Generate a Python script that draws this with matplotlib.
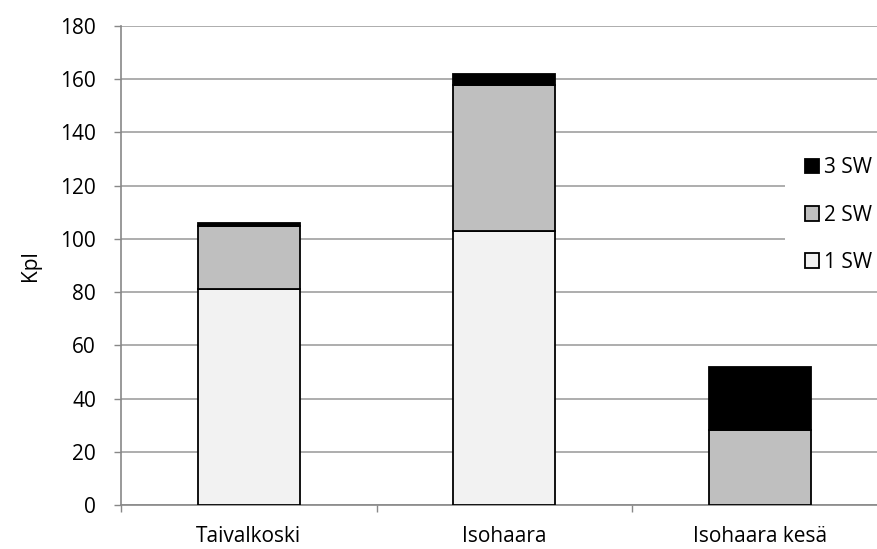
import matplotlib.pyplot as plt
from matplotlib.patches import Rectangle
import numpy as np

categories = ['Taivalkoski', 'Isohaara', 'Isohaara kesä']
sw1 = [81, 103, 0]
sw2 = [24, 55, 28]
sw3 = [1, 4, 24]
series_labels = ['1 SW', '2 SW', '3 SW']
colors = ['#F2F2F2', '#BFBFBF', '#000000']

plt.rcParams['font.family'] = ['Open Sans', 'DejaVu Sans']

fig = plt.figure(figsize=(8.77, 5.49), dpi=100)
W, H = 877, 549
ax = fig.add_axes([121 / W, 1 - 505 / H, (887.5 - 121) / W, (505 - 26) / H])

x = np.arange(len(categories))
bottom = np.zeros(len(categories))
handles = []
for vals, lab, col in zip([sw1, sw2, sw3], series_labels, colors):
    b = ax.bar(x, vals, width=0.4, bottom=bottom, color=col, edgecolor='black',
               linewidth=1.3, label=lab, zorder=3)
    handles.append(b)
    bottom += np.array(vals)

ax.set_xlim(-0.5, 2.5)
ax.set_ylim(0, 180)
ax.set_yticks(range(0, 181, 20))
ax.set_xticks(x)
ax.set_xticklabels(categories, fontsize=15)
ax.set_xticks([-0.5, 0.5, 1.5, 2.5], minor=True)
ax.tick_params(axis='x', which='major', length=0, pad=15)
ax.tick_params(axis='x', which='minor', length=5, color='#888888', width=1)
ax.tick_params(axis='y', labelsize=15, length=5, color='#888888', width=1,
               direction='out', pad=13)
ax.yaxis.grid(True, color='#A0A0A0', linewidth=1.2, zorder=0)
for s in ['top', 'right']:
    ax.spines[s].set_visible(False)
for s in ['left', 'bottom']:
    ax.spines[s].set_color('#888888')
    ax.spines[s].set_linewidth(1.2)
ax.set_ylabel('Kpl', fontsize=15, labelpad=14)

# white area behind the legend, hides the gridlines there
fig.patches.append(Rectangle((785 / W, 1 - 290 / H), (877 - 785) / W, (290 - 136) / H,
                             transform=fig.transFigure, facecolor='white',
                             edgecolor='none', zorder=2))
leg = fig.legend(handles[::-1], series_labels[::-1], loc='center left',
                 bbox_to_anchor=(790 / W, 1 - 215 / H), frameon=False, fontsize=15,
                 handlelength=0.7, handleheight=0.7, handletextpad=0.25,
                 labelspacing=1.25, borderpad=0.2)
leg.set_zorder(5)

fig.savefig('out.png', dpi=100)
